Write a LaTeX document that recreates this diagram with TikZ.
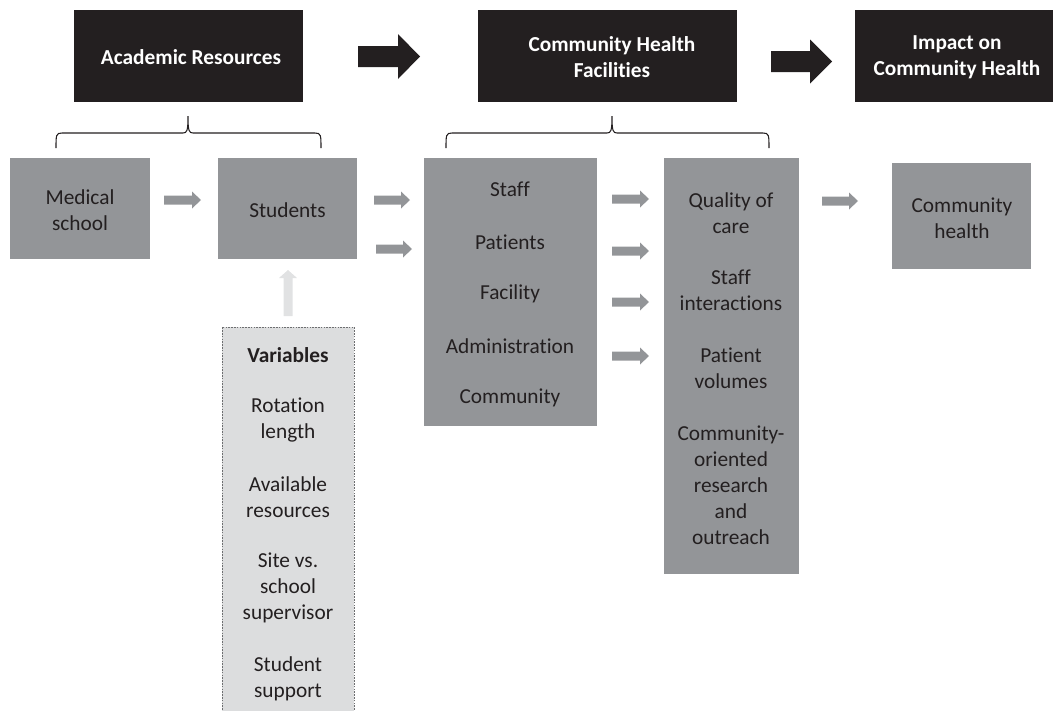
\documentclass[tikz,border=0pt]{standalone}
\usepackage{fontspec}
\setmainfont{Carlito}[RawFeature={-liga;-dlig;-clig}]
\usetikzlibrary{fit}
\definecolor{hdr}{HTML}{231F20}
\definecolor{gbox}{HTML}{939598}
\definecolor{txt}{HTML}{231F20}
\definecolor{varfill}{HTML}{DCDDDE}
\definecolor{uparr}{HTML}{E1E2E3}
\definecolor{dashc}{HTML}{6D6E70}
\tikzset{
  hdrbox/.style={fill=hdr, draw=none, inner sep=0pt},
  graybox/.style={fill=gbox, draw=none, inner sep=0pt},
  varbox/.style={fill=varfill, draw=dashc, dash pattern=on 1.2pt off 0.9pt, line width=0.6pt, inner sep=0pt},
  hdrtext/.style={text=white, font=\fontsize{16}{19.5}\selectfont\bfseries, align=center, inner sep=0pt},
  btext/.style={text=txt, font=\fontsize{16}{19.5}\selectfont, align=center, inner sep=0pt},
  bracep/.style={draw=hdr, line width=0.8pt},
  smallarrow/.style={fill=gbox, draw=none},
  bigarrow/.style={fill=hdr, draw=none},
}
% \blockarr[style]{x1}{headstart}{x2}{y}{shafthalf}{headhalf}
\newcommand{\blockarr}[7][smallarrow]{%
  \fill[#1] (#2,#5-#6) -- (#3,#5-#6) -- (#3,#5-#7) -- (#4,#5) -- (#3,#5+#7) -- (#3,#5+#6) -- (#2,#5+#6) -- cycle;}
\begin{document}
\begin{tikzpicture}[x=0.75pt,y=-0.75pt]
\useasboundingbox (0,0) rectangle (1058,711);
% header boxes
\node[hdrbox, fit={(74,10) (303,102)}] (h1) {};
\node[hdrbox, fit={(478,10) (737,102)}] (h2) {};
\node[hdrbox, fit={(855,10) (1053,102)}] (h3) {};
\node[hdrtext] (h1t) at (191,57) {Academic Resources};
\node[hdrtext] (h2t) at (612,57) {Community Health\\Facilities};
\node[hdrtext] (h3t) at (957,57) {Impact on\\Community Health};
% big arrows
\blockarr[bigarrow]{358}{398}{420}{56.5}{10.5}{22.5}
\blockarr[bigarrow]{771}{810}{832}{61.5}{10.5}{22}
% braces
\draw[bracep] (56,148) .. controls (56,135) and (56,133) .. (62,133) -- (183,133)
   .. controls (187,133) and (188,131) .. (188,116)
   .. controls (188,131) and (189,133) .. (193,133) -- (315,133)
   .. controls (321,133) and (321,135) .. (321,148);
\draw[bracep] (446,148) .. controls (446,135) and (446,133) .. (452,133) -- (607,133)
   .. controls (611,133) and (612,131) .. (612,116)
   .. controls (612,131) and (613,133) .. (617,133) -- (763,133)
   .. controls (769,133) and (769,135) .. (769,148);
% gray boxes
\node[graybox, fit={(10,158) (150,259)}] (med) {};
\node[graybox, fit={(218,158) (357,259)}] (stu) {};
\node[graybox, fit={(424,158) (597,426)}] (fac) {};
\node[graybox, fit={(664,158) (799,574)}] (qual) {};
\node[graybox, fit={(892,163) (1031,269)}] (ch) {};
\node[varbox, fit={(222,327) (354,715)}] (var) {};
% texts
\node[btext] (medt) at (80,210.5) {Medical\\school};
\node[btext] (stut) at (287.5,210.5) {Students};
\node[btext] (f1) at (510,189) {Staff};
\node[btext] (f2) at (510,242) {Patients};
\node[btext] (f3) at (510,294) {Facility};
\node[btext] (f4) at (510,346) {Administration};
\node[btext] (f5) at (510,398) {Community};
\node[btext] (q1) at (731,213) {Quality of\\care};
\node[btext] (q2) at (731,290) {Staff\\interactions};
\node[btext] (q3) at (731,368) {Patient\\volumes};
\node[btext] (q4) at (731,485.5) {Community-\\oriented\\research\\and\\outreach};
\node[btext] (cht) at (962,218) {Community\\health};
\node[btext, font=\fontsize{16}{19.5}\selectfont\bfseries] (v0) at (288,355) {Variables};
\node[btext] (v1) at (288,420) {Rotation\\length};
\node[btext] (v2) at (288,497) {Available\\resources};
\node[btext] (v3) at (288,588) {Site vs.\\school\\supervisor};
\node[btext] (v4) at (288,679) {Student\\support};
% small arrows
\blockarr{164}{192}{201}{200}{4.5}{8.5}
\blockarr{374}{401}{410}{200}{4.5}{8.5}
\blockarr{376}{403}{412}{249}{4.5}{8.5}
\blockarr{612}{640}{649}{199}{4.5}{8.5}
\blockarr{612}{640}{649}{251}{4.5}{8.5}
\blockarr{612}{640}{649}{302}{4.5}{8.5}
\blockarr{612}{640}{649}{356}{4.5}{8.5}
\blockarr{822}{849}{858}{201}{4.5}{8.5}
% up arrow
\fill[uparr] (283.5,316) -- (283.5,278) -- (279,278) -- (288,270) -- (297,278) -- (292.5,278) -- (292.5,316) -- cycle;
\end{tikzpicture}
\end{document}
